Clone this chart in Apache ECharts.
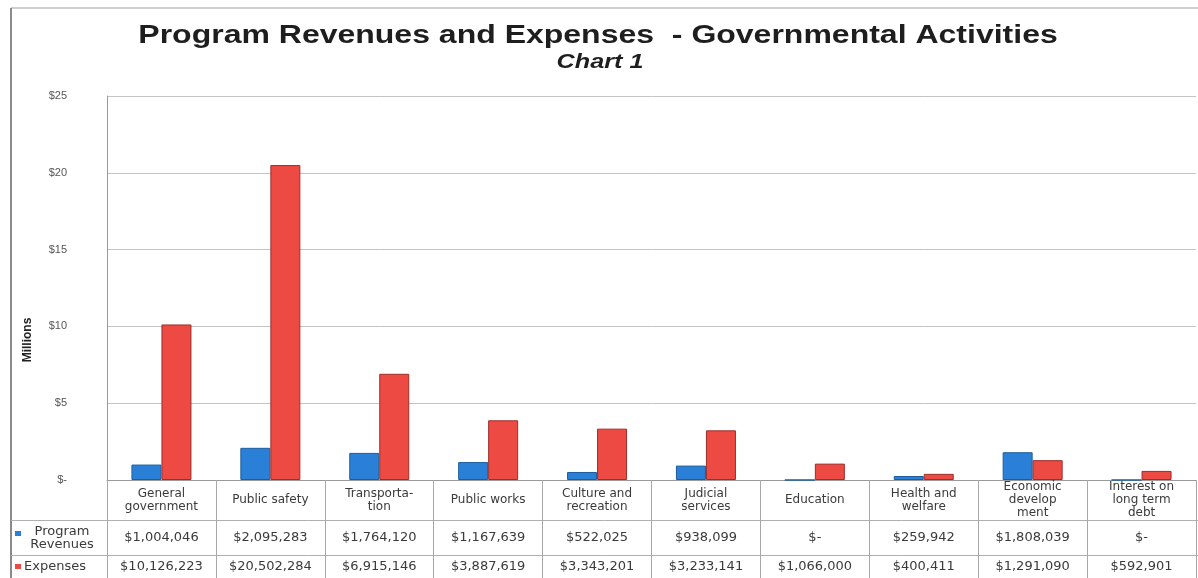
<!DOCTYPE html>
<html>
<head>
<meta charset="utf-8">
<script src="https://cdn.jsdelivr.net/npm/echarts@6/dist/echarts.min.js"></script>
<style>
  html, body { margin: 0; padding: 0; background: #fff; }
  #chart { width: 1198px; height: 578px; }
</style>
</head>
<body>
<div id="chart"></div>
<script>
// Governmental activities: program revenues vs. expenses (dollars)
const categories = [
  'General\ngovernment', 'Public safety', 'Transporta-\ntion', 'Public works',
  'Culture and\nrecreation', 'Judicial\nservices', 'Education', 'Health and\nwelfare',
  'Economic\ndevelop\nment', 'Interest on\nlong term\ndebt'
];
const programRevenues = [1004046, 2095283, 1764120, 1167639, 522025, 938099, 0, 259942, 1808039, 0];
const expenses = [10126223, 20502284, 6915146, 3887619, 3343201, 3233141, 1066000, 400411, 1291090, 592901];
const yTicks = ['$-', '$5', '$10', '$15', '$20', '$25'];

const BLUE = '#2a80d6';
const RED = '#ec4a42';

function money(v) {
  if (v === 0) return '$-';
  return '$' + v.toLocaleString('en-US');
}
const toMillions = arr => arr.map(v => v / 1e6);

const chart = echarts.init(document.getElementById('chart'));
const tableFont = { fontFamily: 'DejaVu Sans', fontSize: 13, color: '#3a3a3a' };

chart.setOption({
  animation: false,
  backgroundColor: '#ffffff',
  grid: { left: 107, right: 2, top: 96, bottom: 98, containLabel: false },
  xAxis: [
    {
      type: 'category', data: categories, gridIndex: 0, position: 'bottom',
      axisLine: { show: true, lineStyle: { color: '#9a9a9a', width: 1 } },
      axisTick: { show: true, alignWithLabel: false, length: 98, lineStyle: { color: '#a8a8a8' } },
      axisLabel: {
        interval: 0, margin: 20, verticalAlign: 'middle', lineHeight: 13,
        ...tableFont, fontSize: 12
      }
    },
    {
      type: 'category', data: categories, gridIndex: 0, position: 'bottom',
      axisLine: { show: false }, axisTick: { show: false },
      axisLabel: {
        interval: 0, margin: 58, verticalAlign: 'middle', ...tableFont,
        formatter: (val, i) => money(programRevenues[i])
      }
    },
    {
      type: 'category', data: categories, gridIndex: 0, position: 'bottom',
      axisLine: { show: false }, axisTick: { show: false },
      axisLabel: {
        interval: 0, margin: 87, verticalAlign: 'middle', ...tableFont,
        formatter: (val, i) => money(expenses[i])
      }
    }
  ],
  yAxis: {
    type: 'value', min: 0, max: 25, interval: 5,
    axisLine: { show: true, lineStyle: { color: '#9a9a9a' } },
    axisTick: { show: false },
    axisLabel: {
      margin: 40, fontFamily: 'Liberation Sans', fontSize: 11, color: '#555',
      formatter: v => yTicks[Math.round(v / 5)]
    },
    splitLine: { show: true, lineStyle: { color: '#c4c4c4', width: 1 } }
  },
  series: [
    {
      name: 'Program Revenues', type: 'bar', xAxisIndex: 0,
      data: toMillions(programRevenues),
      barWidth: 30, barGap: '0%',
      itemStyle: { color: BLUE, borderColor: '#1c5c9c', borderWidth: 1 }
    },
    {
      name: 'Expenses', type: 'bar', xAxisIndex: 0,
      data: toMillions(expenses),
      barWidth: 30, barGap: '0%',
      itemStyle: { color: RED, borderColor: '#9c2e2a', borderWidth: 1 }
    }
  ],
  graphic: [
    // headings (set wide, as in the printed report)
    {
      type: 'text', x: 598, y: 36, scaleX: 1.28,
      style: {
        text: 'Program Revenues and Expenses  - Governmental Activities',
        align: 'center', verticalAlign: 'middle',
        font: 'bold 25px "Liberation Sans"', fill: '#1e1e1e'
      }
    },
    {
      type: 'text', x: 600, y: 62, scaleX: 1.2,
      style: {
        text: 'Chart 1', align: 'center', verticalAlign: 'middle',
        font: 'italic bold 21px "Liberation Sans"', fill: '#1e1e1e'
      }
    },
    // value axis title
    {
      type: 'text', x: 28, y: 340, rotation: Math.PI / 2,
      style: {
        text: 'Millions', align: 'center', verticalAlign: 'middle',
        font: 'bold 12px "Liberation Sans"', fill: '#222'
      }
    },
    // outer frame edges
    { type: 'line', shape: { x1: 11, y1: 8, x2: 1198, y2: 8 }, style: { stroke: '#cfcfcf', lineWidth: 2 } },
    { type: 'line', shape: { x1: 11, y1: 8, x2: 11, y2: 578 }, style: { stroke: '#8a8a8a', lineWidth: 2 } },
    // data table row rules
    { type: 'line', shape: { x1: 11, y1: 520.5, x2: 1198, y2: 520.5 }, style: { stroke: '#b0b0b0', lineWidth: 1 } },
    { type: 'line', shape: { x1: 11, y1: 555.5, x2: 1198, y2: 555.5 }, style: { stroke: '#b0b0b0', lineWidth: 1 } },
    // row headers with legend keys
    { type: 'rect', shape: { x: 15, y: 531, width: 6, height: 5 }, style: { fill: BLUE } },
    { type: 'text', x: 62, y: 538, style: { text: 'Program\nRevenues', align: 'center', verticalAlign: 'middle', lineHeight: 13, font: '13px "DejaVu Sans"', fill: '#3a3a3a' } },
    { type: 'rect', shape: { x: 15, y: 564, width: 6, height: 5 }, style: { fill: RED } },
    { type: 'text', x: 24, y: 567, style: { text: 'Expenses', align: 'left', verticalAlign: 'middle', font: '13px "DejaVu Sans"', fill: '#3a3a3a' } }
  ]
});
</script>
</body>
</html>
